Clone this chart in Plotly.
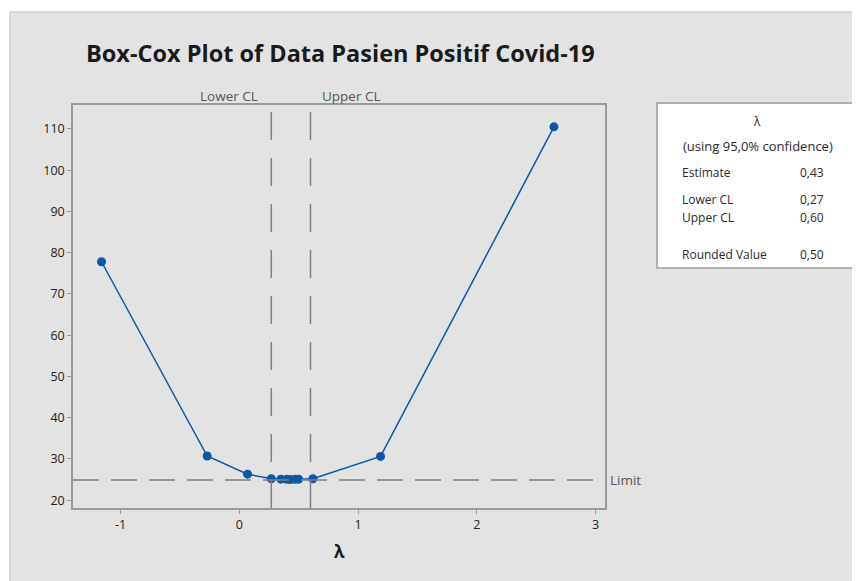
import plotly.graph_objects as go

# Data
lambdas = [-1.16, -0.27, 0.07, 0.27, 0.35, 0.40, 0.43, 0.47, 0.50, 0.62, 1.19, 2.65]
stdev = [77.8, 30.7, 26.3, 25.2, 25.1, 25.05, 25.0, 25.05, 25.1, 25.2, 30.6, 110.5]
lower_cl = 0.27
upper_cl = 0.60
limit = 24.9
x_ticks = [-1, 0, 1, 2, 3]
y_ticks = [20, 30, 40, 50, 60, 70, 80, 90, 100, 110]
stats_labels = ["Estimate", "Lower CL", "Upper CL", "Rounded Value"]
stats_values = ["0,43", "0,27", "0,60", "0,50"]

OFF = 8  # page body margin
W, H = 860 - OFF, 581 - OFF
L, R, T, B = 73, 605, 105, 508  # target pixel positions in the screenshot
FONT = "Open Sans"
BLUE = "#0b57a8"
GRAY = "#808080"
TXT = "#2a2a2a"

def px(x):
    return (x - L) / (R - L)

def py(y):
    return (B - y) / (B - T)

fig = go.Figure()
fig.add_trace(go.Scatter(
    x=lambdas, y=stdev, mode="lines+markers",
    line=dict(color=BLUE, width=1.5),
    marker=dict(color=BLUE, size=9, symbol="circle"),
    showlegend=False, hoverinfo="x+y"))

shapes = []
shapes.append(dict(type="rect", xref="paper", yref="paper",
                   x0=px(10), x1=px(866), y0=py(12), y1=py(590),
                   fillcolor="#e3e3e3", line=dict(color="#cfcfcf", width=1.5), layer="below"))
for v in (lower_cl, upper_cl):
    shapes.append(dict(type="line", xref="x", yref="paper", x0=v, x1=v, y0=0, y1=1,
                       line=dict(color=GRAY, width=1.5, dash="28px,18px")))
shapes.append(dict(type="line", xref="paper", yref="y", x0=0, x1=1, y0=limit, y1=limit,
                   line=dict(color=GRAY, width=1.5, dash="26px,12px")))
shapes.append(dict(type="rect", xref="paper", yref="paper",
                   x0=px(657), x1=px(858), y0=py(268), y1=py(103),
                   fillcolor="white", line=dict(color="#9a9a9a", width=1.5)))

ann = []
ann.append(dict(text="<b>Box-Cox Plot of Data Pasien Positif Covid-19</b>", xref="paper", yref="paper",
                x=px(84), y=py(53), xanchor="left", yanchor="middle", showarrow=False,
                font=dict(family=FONT, size=23.5, color="#1a1a1a")))
ann.append(dict(text="Lower CL", xref="paper", yref="paper", x=px(229), y=py(96), xanchor="center",
                yanchor="middle", showarrow=False, font=dict(family=FONT, size=13.5, color="#555555")))
ann.append(dict(text="Upper CL", xref="paper", yref="paper", x=px(351), y=py(96), xanchor="center",
                yanchor="middle", showarrow=False, font=dict(family=FONT, size=13.5, color="#555555")))
ann.append(dict(text="Limit", xref="paper", yref="y", x=px(608), y=limit, xanchor="left",
                yanchor="middle", showarrow=False, font=dict(family=FONT, size=13.5, color="#555555")))
ann.append(dict(text="<b>λ</b>", xref="paper", yref="paper", x=px(339), y=py(551), xanchor="center",
                yanchor="middle", showarrow=False, font=dict(family=FONT, size=17, color="#1a1a1a")))
ann.append(dict(text="λ", xref="paper", yref="paper", x=px(757), y=py(121), xanchor="center",
                yanchor="middle", showarrow=False, font=dict(family=FONT, size=12, color=TXT)))
ann.append(dict(text="(using 95,0% confidence)", xref="paper", yref="paper", x=px(758), y=py(146),
                xanchor="center", yanchor="middle", showarrow=False, font=dict(family=FONT, size=13, color=TXT)))
rows_y = [172, 199, 217, 254]
for lab, val, yy in zip(stats_labels, stats_values, rows_y):
    ann.append(dict(text=lab, xref="paper", yref="paper", x=px(680), y=py(yy), xanchor="left",
                    yanchor="middle", showarrow=False, font=dict(family=FONT, size=12, color=TXT)))
    ann.append(dict(text=val, xref="paper", yref="paper", x=px(798), y=py(yy), xanchor="left",
                    yanchor="middle", showarrow=False, font=dict(family=FONT, size=12, color=TXT)))

fig.update_layout(
    width=W, height=H,
    margin=dict(l=L - OFF, r=W - (R - OFF), t=T - OFF, b=H - (B - OFF), pad=0),
    paper_bgcolor="white", plot_bgcolor="white",
    font=dict(family=FONT, size=12, color="#222222"),
    shapes=shapes, annotations=ann,
    xaxis=dict(range=[-1.40, 3.08], tickvals=x_ticks, ticktext=[str(t) for t in x_ticks],
               showgrid=False, zeroline=False, showline=True, linecolor="#9a9a9a", linewidth=1.5,
               mirror=True, ticks="outside", ticklen=4, tickcolor="#9a9a9a",
               tickfont=dict(family=FONT, size=12.5, color="#222222")),
    yaxis=dict(range=[18.1, 115.8], tickvals=y_ticks, ticktext=[str(t) for t in y_ticks],
               showgrid=False, zeroline=False, showline=True, linecolor="#9a9a9a", linewidth=1.5,
               mirror=True, ticks="outside", ticklen=4, tickcolor="#9a9a9a",
               tickfont=dict(family=FONT, size=12.5, color="#222222")),
)

fig.write_html("out.html")
